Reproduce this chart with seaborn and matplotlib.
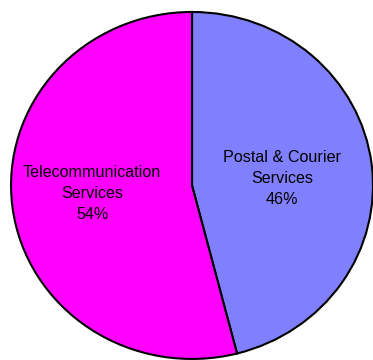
import matplotlib
matplotlib.use("Agg")
import matplotlib.pyplot as plt
import seaborn as sns

categories = ["Postal & Courier\nServices", "Telecommunication\nServices"]
shares = [46, 54]
colors = ["#8080FF", "#FF00FF"]

# label centres inside each slice (data units of the unit pie)
label_xy = [(0.496, 0.040), (-0.552, -0.048)]

sns.set_theme(style="white")
plt.rcParams["font.family"] = ["Liberation Sans", "DejaVu Sans"]

fig = plt.figure(figsize=(3.73, 3.60), dpi=100)
ax = fig.add_axes([0, 0, 1, 1])

wedges, _, autotexts = ax.pie(
    shares,
    colors=colors,
    startangle=90,
    counterclock=False,
    autopct="%.0f%%",
    pctdistance=0.52,
    wedgeprops=dict(edgecolor="black", linewidth=1.5),
    textprops=dict(fontsize=11.6, color="black"),
)
for name, t, xy in zip(categories, autotexts, label_xy):
    t.set_text(f"{name}\n{t.get_text()}")
    t.set_linespacing(1.5)
    t.set_position(xy)

ax.set_aspect("auto")
ax.set_xlim(-1.061, 1.0)
ax.set_ylim(-1.006, 1.069)
ax.axis("off")

fig.savefig("out.png", dpi=100, facecolor="white")
